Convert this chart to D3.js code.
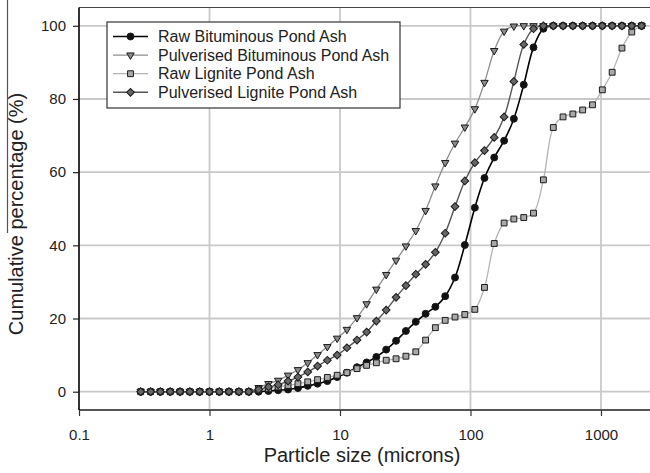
<!DOCTYPE html>
<html>
<head>
<meta charset="utf-8">
<script src="https://cdn.jsdelivr.net/npm/d3@7/dist/d3.min.js"></script>
<style>
    body { margin: 0; background: #fff; }
    svg { display: block; font-family: "Liberation Sans", Arial, sans-serif; }
</style>
</head>
<body>
<div id="chart"></div>
<script>
// particle size classes (microns)
const sizes = [0.297, 0.354, 0.420, 0.500, 0.595, 0.707, 0.841, 1.00, 1.19, 1.41, 1.68, 2.00,
    2.38, 2.83, 3.36, 4.00, 4.76, 5.66, 6.73, 8.00, 9.51, 11.3, 13.5, 16.0,
    19.0, 22.6, 26.9, 32.0, 38.1, 45.3, 53.8, 64.0, 76.1, 90.5, 108, 128,
    152, 181, 215, 256, 304, 362, 431, 512, 609, 724, 861, 1024,
    1218, 1448, 1722, 2048];

const rawBituminous = [0, 0, 0, 0, 0, 0, 0, 0, 0, 0, 0, 0,
    0.0, 0.2, 0.4, 0.6, 1.0, 1.6, 2.2, 2.9, 4.0, 5.2, 6.7, 8.0,
    9.5, 11.5, 13.9, 16.6, 19.1, 21.3, 23.2, 26.1, 31.2, 40.1, 50.3, 58.4,
    64.0, 68.6, 74.6, 83.9, 94.1, 99.2, 100, 100, 100, 100, 100, 100,
    100, 100, 100, 100];

const pulvBituminous = [0, 0, 0, 0, 0, 0, 0, 0, 0, 0, 0, 0,
    1.1, 2.2, 3.1, 4.5, 6.0, 7.9, 10.1, 12.3, 14.6, 17.0, 20.2, 24.0,
    28.0, 32.0, 35.9, 39.8, 44.0, 49.5, 56.2, 62.6, 67.9, 72.3, 77.3, 84.5,
    93.2, 98.5, 99.9, 100, 100, 100, 100, 100, 100, 100, 100, 100,
    100, 100, 100, 100];

const rawLignite = [0, 0, 0, 0, 0, 0, 0, 0, 0, 0, 0, 0,
    0.5, 0.8, 1.3, 1.7, 2.2, 2.7, 3.3, 3.9, 4.5, 5.2, 6.3, 7.2,
    7.9, 8.6, 9.0, 9.7, 10.9, 14.1, 17.5, 19.5, 20.4, 21.1, 22.5, 28.5,
    40.5, 46.1, 47.2, 47.6, 48.8, 57.9, 72.2, 75.1, 75.9, 77.0, 78.4, 82.5,
    87.3, 93.9, 98.3, 100];

const pulvLignite = [0, 0, 0, 0, 0, 0, 0, 0, 0, 0, 0, 0,
    0.6, 1.3, 1.9, 2.9, 4.0, 5.4, 7.0, 8.6, 10.0, 12.0, 14.1, 16.3,
    19.3, 22.3, 25.8, 29.0, 32.1, 34.8, 38.1, 43.3, 50.6, 57.6, 62.6, 65.9,
    69.5, 75.1, 84.8, 94.9, 99.2, 100, 100, 100, 100, 100, 100, 100,
    100, 100, 100, 100];

const seriesNames = ["Raw Bituminous Pond Ash", "Pulverised Bituminous Pond Ash",
    "Raw Lignite Pond Ash", "Pulverised Lignite Pond Ash"];

const xTicks = [0.1, 1, 10, 100, 1000];
const xTickLabels = ["0.1", "1", "10", "100", "1000"];
const yTicks = [0, 20, 40, 60, 80, 100];

const series = [
    { name: seriesNames[0], values: rawBituminous, line: "#000", lineWidth: 1.6,
      symbol: d3.symbolCircle, size: 38, rotate: 0, fill: "#111" },
    { name: seriesNames[1], values: pulvBituminous, line: "#8e8e8e", lineWidth: 1.3,
      symbol: d3.symbolTriangle, size: 24, rotate: 180, fill: "#8a8a8a" },
    { name: seriesNames[2], values: rawLignite, line: "#b4b4b4", lineWidth: 1.3,
      symbol: d3.symbolSquare, size: 34, rotate: 0, fill: "#a9a9a9" },
    { name: seriesNames[3], values: pulvLignite, line: "#555", lineWidth: 1.4,
      symbol: d3.symbolSquare, size: 30, rotate: 45, fill: "#666" }
];

const W = 650, H = 473;
const plotLeft = 79, plotRight = 650, plotTop = 7.5, plotBottom = 410;

const svg = d3.select("#chart")
    .append("svg")
    .attr("width", W)
    .attr("height", H);

const x = d3.scaleLog()
    .domain([0.1, 2375])
    .range([plotLeft, plotRight]);

const y = d3.scaleLinear()
    .domain([-5, 105])
    .range([plotBottom, plotTop]);

// grid
svg.append("g")
    .selectAll("line")
    .data(yTicks)
    .enter().append("line")
    .attr("x1", plotLeft)
    .attr("x2", plotRight)
    .attr("y1", d => y(d))
    .attr("y2", d => y(d))
    .attr("stroke", "#c9c9c9")
    .attr("stroke-width", 1.8);

svg.append("g")
    .selectAll("line")
    .data(xTicks.slice(1))
    .enter().append("line")
    .attr("x1", d => x(d))
    .attr("x2", d => x(d))
    .attr("y1", plotTop)
    .attr("y2", plotBottom)
    .attr("stroke", "#c9c9c9")
    .attr("stroke-width", 1.8);

// top frame line
svg.append("line")
    .attr("x1", plotLeft).attr("x2", plotRight)
    .attr("y1", plotTop).attr("y2", plotTop)
    .attr("stroke", "#444")
    .attr("stroke-width", 1.2);

// axes
const xAxis = svg.append("g")
    .attr("transform", `translate(0,${plotBottom})`)
    .call(d3.axisBottom(x)
        .tickValues(xTicks)
        .tickFormat((d, i) => xTickLabels[i])
        .tickSizeOuter(0)
        .tickSize(6)
        .tickPadding(13));

xAxis.select(".domain")
    .attr("d", `M${plotLeft},0H${plotRight}`)
    .attr("stroke", "#555")
    .attr("stroke-width", 2);
xAxis.selectAll(".tick line").attr("stroke", "#333").attr("stroke-width", 1.2);
xAxis.selectAll(".tick text")
    .attr("font-size", "15px")
    .attr("font-family", "Liberation Sans, Arial, sans-serif")
    .attr("fill", "#222");

const yAxis = svg.append("g")
    .attr("transform", `translate(${plotLeft},0)`)
    .call(d3.axisLeft(y)
        .tickValues(yTicks)
        .tickSizeOuter(0)
        .tickSize(6)
        .tickPadding(7));

yAxis.select(".domain")
    .attr("d", `M0,${plotTop}V${plotBottom}`)
    .attr("stroke", "#000")
    .attr("stroke-width", 1.6);
yAxis.selectAll(".tick line").attr("stroke", "#222").attr("stroke-width", 1.2);
yAxis.selectAll(".tick text")
    .attr("font-size", "15px")
    .attr("font-family", "Liberation Sans, Arial, sans-serif")
    .attr("fill", "#222");

// axis titles
svg.append("text")
    .attr("x", 362)
    .attr("y", 462)
    .attr("text-anchor", "middle")
    .attr("font-size", "20px")
    .attr("fill", "#222")
    .text("Particle size (microns)");

svg.append("text")
    .attr("transform", "translate(23,214) rotate(-90)")
    .attr("text-anchor", "middle")
    .attr("font-size", "20px")
    .attr("fill", "#222")
    .text("Cumulative percentage (%)");

// stray frame edge at the left of the picture
svg.append("line")
    .attr("x1", 7.5).attr("x2", 7.5)
    .attr("y1", 0).attr("y2", 233)
    .attr("stroke", "#555")
    .attr("stroke-width", 1.2);

// series
const line = d3.line()
    .x((d, i) => x(sizes[i]))
    .y(d => y(d))
    .curve(d3.curveCatmullRom.alpha(0.5));

series.forEach(s => {
    const g = svg.append("g");

    g.append("path")
        .attr("d", line(s.values))
        .attr("fill", "none")
        .attr("stroke", s.line)
        .attr("stroke-width", s.lineWidth);

    g.selectAll("path.marker")
        .data(s.values)
        .enter().append("path")
        .attr("class", "marker")
        .attr("d", d3.symbol().type(s.symbol).size(s.size))
        .attr("transform", (d, i) => `translate(${x(sizes[i])},${y(d)}) rotate(${s.rotate})`)
        .attr("fill", s.fill)
        .attr("stroke", "#1a1a1a")
        .attr("stroke-width", 1);
});

// legend
const legend = svg.append("g")
    .attr("transform", "translate(107,22)");

legend.append("rect")
    .attr("x", 0)
    .attr("y", 0)
    .attr("width", 293)
    .attr("height", 86)
    .attr("fill", "#fff")
    .attr("stroke", "#333")
    .attr("stroke-width", 1.2);

const rows = legend.selectAll("g.row")
    .data(series)
    .enter().append("g")
    .attr("class", "row")
    .attr("transform", (d, i) => `translate(0,${14.5 + i * 18.6})`);

rows.append("line")
    .attr("x1", 6)
    .attr("x2", 41)
    .attr("stroke", d => d.line)
    .attr("stroke-width", d => d.lineWidth);

rows.append("path")
    .attr("d", d => d3.symbol().type(d.symbol).size(d.size)())
    .attr("transform", d => `translate(23.5,0) rotate(${d.rotate})`)
    .attr("fill", d => d.fill)
    .attr("stroke", "#1a1a1a")
    .attr("stroke-width", 1);

rows.append("text")
    .attr("x", 51)
    .attr("y", 5.6)
    .attr("font-size", "16px")
    .attr("fill", "#222")
    .text(d => d.name);
</script>
</body>
</html>
